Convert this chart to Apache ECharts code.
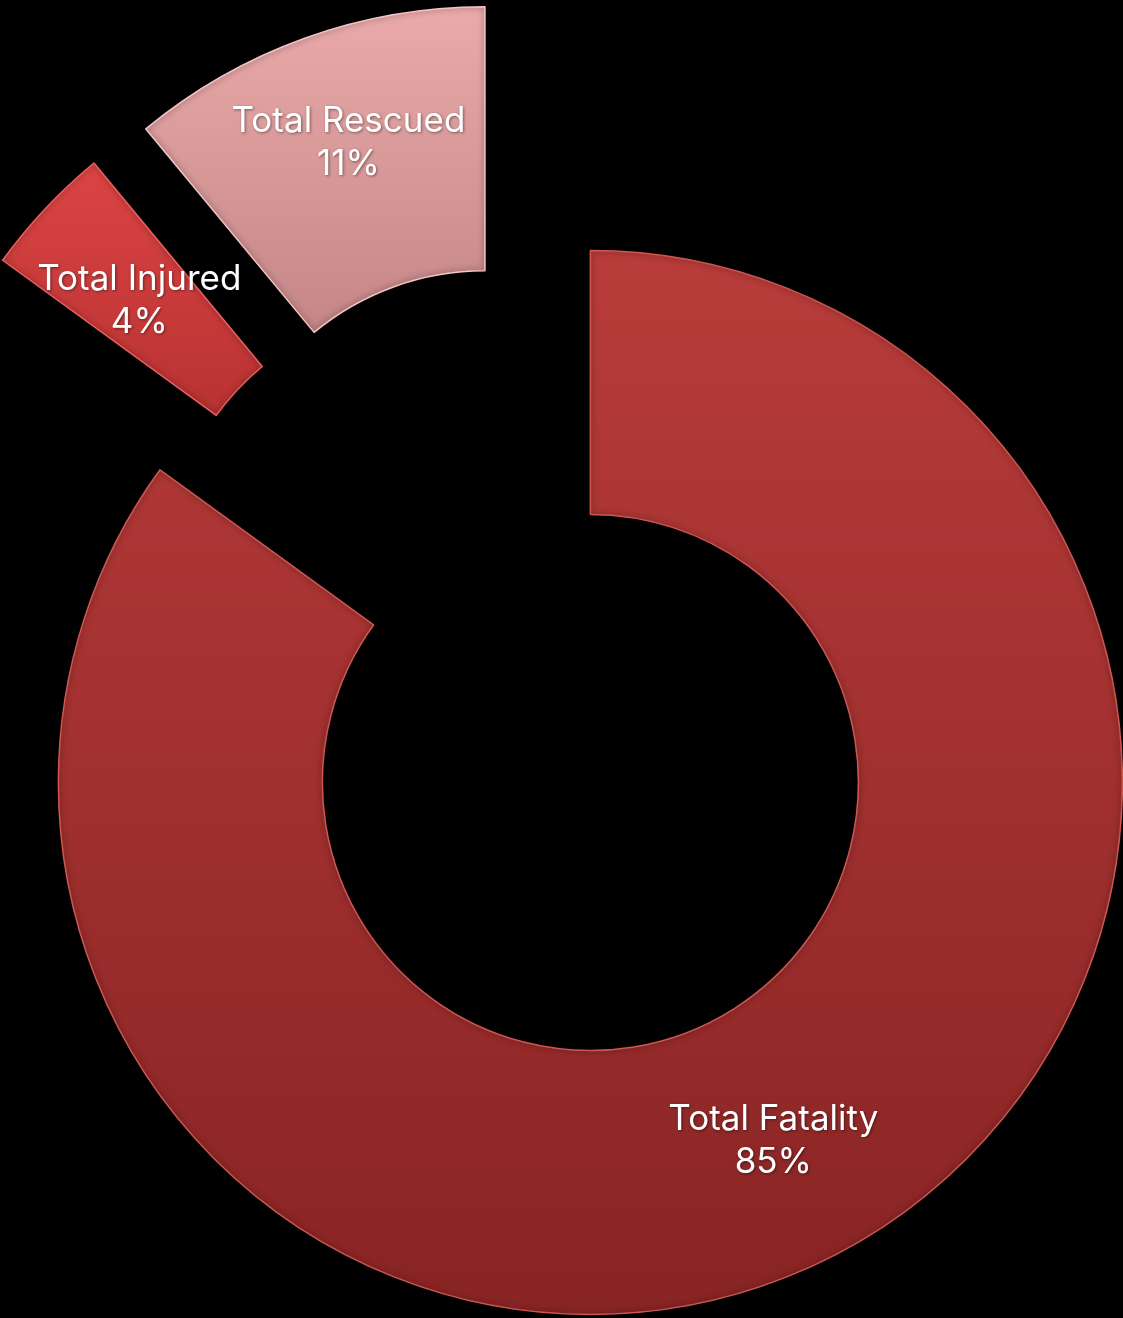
<!DOCTYPE html>
<html>
<head>
<meta charset="utf-8">
<script src="https://cdn.jsdelivr.net/npm/echarts@6/dist/echarts.min.js"></script>
<style>
html,body{margin:0;padding:0;background:#000;}
#chart{width:1123px;height:1318px;}
</style>
</head>
<body>
<div id="chart"></div>
<script>
const categories = ['Total Fatality', 'Total Injured', 'Total Rescued'];
const values = [85, 4, 11];
const topColors = ['#b83c3a', '#dc4444', '#eaaaaa'];
const bottomColors = ['#882424', '#b83232', '#c48686'];
const edgeColors = ['#d05652', '#ee6060', '#f4c4c4'];
const labelShiftY = [-1, 4, -17];

const chart = echarts.init(document.getElementById('chart'));
const data = categories.map((name, i) => ({
  name: name,
  value: values[i],
  selected: true,
  itemStyle: {
    color: new echarts.graphic.LinearGradient(0, 0, 0, 1, [
      {offset: 0, color: topColors[i]},
      {offset: 1, color: bottomColors[i]}
    ]),
    borderColor: edgeColors[i]
  }
}));

chart.setOption({
  backgroundColor: '#000000',
  animation: false,
  series: [{
    type: 'pie',
    center: [530, 664],
    radius: [268, 532],
    startAngle: 90,
    clockwise: true,
    selectedMode: 'multiple',
    selectedOffset: 133,
    avoidLabelOverlap: false,
    itemStyle: {
      borderWidth: 1.5,
      shadowBlur: 6,
      shadowColor: 'rgba(0,0,0,0.6)'
    },
    label: {
      show: true,
      position: 'inside',
      color: '#ffffff',
      fontFamily: 'Inter, "Noto Sans", sans-serif',
      fontSize: 35,
      lineHeight: 43,
      textShadowColor: 'rgba(0,0,0,0.45)',
      textShadowBlur: 3,
      textShadowOffsetX: 1,
      textShadowOffsetY: 1,
      formatter: p => p.name + '\n' + Math.round(p.percent) + '%'
    },
    labelLayout: p => ({dy: labelShiftY[p.dataIndex]}),
    labelLine: {show: false},
    emphasis: {disabled: true},
    select: {disabled: false},
    data: data
  }]
});
</script>
</body>
</html>
